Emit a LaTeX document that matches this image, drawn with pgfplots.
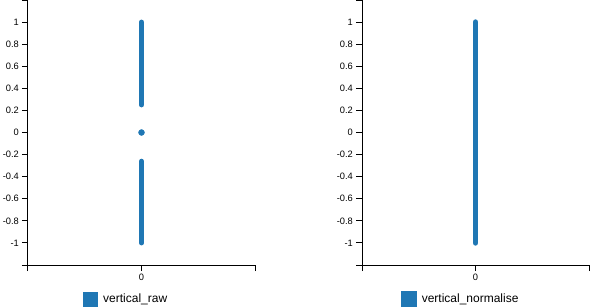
\documentclass[border=0pt]{standalone}
\usepackage{pgfplots}
\pgfplotsset{compat=1.18}
\usepackage{fontspec}
\setmainfont{Liberation Sans}
\definecolor{c1}{HTML}{1F77B4}
\pgfplotsset{
 myaxis/.style={
  scale only axis, width=227pt, height=265pt,
  xmin=-1, xmax=1, ymin=-1.2, ymax=1.2,
  axis x line*=bottom, axis y line*=left,
  axis line style={black, line width=1pt},
  tick align=outside, major tick length=6pt,
  tick style={black, line width=1pt},
  xtick={-1,0,1}, xticklabels={,0,},
  ytick={-1.2,-1,-0.8,-0.6,-0.4,-0.2,0,0.2,0.4,0.6,0.8,1,1.2},
  yticklabels={,-1,-0.8,-0.6,-0.4,-0.2,0,0.2,0.4,0.6,0.8,1,},
  tick label style={font=\fontsize{9.3}{11}\selectfont, text=black},
  yticklabel style={inner sep=0pt, xshift=-3pt},
  xticklabel style={inner sep=0pt, yshift=-3pt},
  clip=false,
  legend style={draw=none, fill=none, font=\fontsize{12}{14}\selectfont, anchor=west, inner sep=0pt,
    /tikz/every odd column/.append style={column sep=3pt}},
  legend image code/.code={\fill[c1] (0pt,-5pt) rectangle (10pt,5pt);},
 }
}
\begin{document}
\begin{tikzpicture}
\useasboundingbox (0,0) rectangle (591pt,306pt);
\begin{axis}[myaxis, at={(28pt,41pt)}, anchor=south west,
  legend style={at={(axis description cs:0.2423,-0.1283)}}]
\addplot[c1, line width=5pt, line cap=round] coordinates {
(0,0.25) (0,0.3) (0,0.35) (0,0.4) (0,0.45) (0,0.5) (0,0.55) (0,0.6) (0,0.65) (0,0.7) (0,0.75) (0,0.8) (0,0.85) (0,0.9) (0,0.95) (0,1)};
\addlegendentry{vertical\_raw}
\addplot[c1, line width=5pt, line cap=round, forget plot] coordinates {
(0,-0.26) (0,-0.3) (0,-0.35) (0,-0.4) (0,-0.45) (0,-0.5) (0,-0.55) (0,-0.6) (0,-0.65) (0,-0.7) (0,-0.75) (0,-0.8) (0,-0.85) (0,-0.9) (0,-0.95) (0,-1)};
\addplot[c1, only marks, mark=*, mark size=3pt, forget plot] coordinates {(0,0)};
\end{axis}
\begin{axis}[myaxis, at={(362pt,41pt)}, anchor=south west,
  legend style={at={(axis description cs:0.1718,-0.1283)}}]
\addplot[c1, line width=5.6pt, line cap=round] coordinates {
(0,-1) (0,-0.9) (0,-0.8) (0,-0.7) (0,-0.6) (0,-0.5) (0,-0.4) (0,-0.3) (0,-0.2) (0,-0.1) (0,0) (0,0.1) (0,0.2) (0,0.3) (0,0.4) (0,0.5) (0,0.6) (0,0.7) (0,0.8) (0,0.9) (0,1)};
\addlegendentry{vertical\_normalise}
\end{axis}
\end{tikzpicture}
\end{document}
